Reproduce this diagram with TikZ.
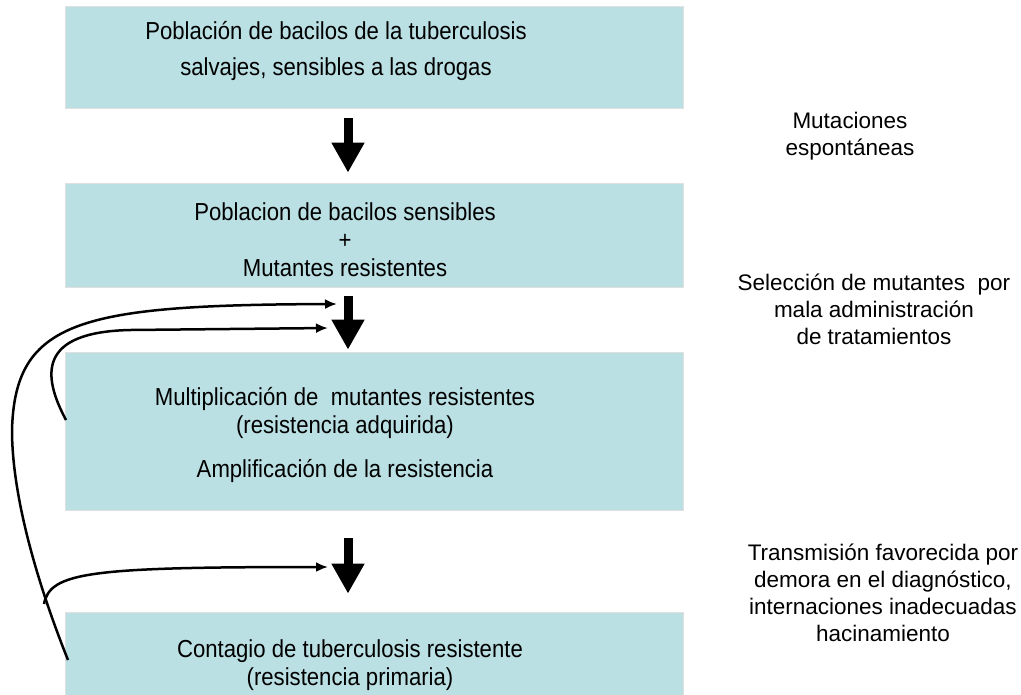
\documentclass[tikz,border=0pt]{standalone}
\usepackage{fontspec}
\setmainfont{Liberation Sans}
\newfontfamily\boxfont{Liberation Sans}[FakeStretch=0.9]
\usetikzlibrary{arrows.meta}

\definecolor{boxfill}{RGB}{186,224,228}

\tikzset{
  box/.style={rectangle, draw=black!12, fill=boxfill, minimum width=12.36cm},
  txt/.style={align=center, inner sep=0pt, font=\boxfont\fontsize{14}{16}\selectfont},
  note/.style={align=center, inner sep=0pt, font=\fontsize{12.8}{15.3}\selectfont},
  bigarrow/.style={line width=0.18cm, -{Triangle[width=0.62cm, length=0.6cm]}},
  thinarrow/.style={line width=0.05cm, -{Latex[length=0.24cm, width=0.2cm]}}
}

\begin{document}
\begin{tikzpicture}[x=0.02cm, y=-0.02cm]

\useasboundingbox (0,0) rectangle (1021,694);

\node[box, minimum height=2.04cm] (b1) at (374, 57) {};
\node[box, minimum height=2.08cm] (b2) at (374, 235) {};
\node[box, minimum height=3.16cm] (b3) at (374, 431) {};
\node[box, minimum height=1.76cm] (b4) at (374, 656) {};

\node[txt] (t1) at (336, 51) {Población de bacilos de la tuberculosis\\[5pt] salvajes, sensibles a las drogas};
\node[txt] (t2) at (345, 240) {Poblacion de bacilos sensibles\\ +\\ Mutantes resistentes};
\node[txt] (t3) at (345, 435) {Multiplicación de\ \ mutantes resistentes\\ (resistencia adquirida)\\[9pt] Amplificación de la resistencia};
\node[txt] (t4) at (350, 665) {Contagio de tuberculosis resistente\\ (resistencia primaria)};

\node[note] (m1) at (850, 136) {Mutaciones\\ espontáneas};
\node[note] (m2) at (874, 309) {Selección de mutantes\ \ por\\ mala administración\\ de tratamientos};
\node[note] (m3) at (883, 593) {Transmisión favorecida por\\ demora en el diagnóstico,\\ internaciones inadecuadas\\ hacinamiento};

\draw[bigarrow, shorten <=0.2cm, shorten >=0.2cm] ([xshift=-0.52cm]b1.south) -- ([xshift=-0.52cm]b2.north);
\draw[bigarrow, shorten <=0.18cm, shorten >=0.04cm] ([xshift=-0.52cm]b2.south) -- ([xshift=-0.52cm]b3.north);
\draw[bigarrow, shorten <=0.56cm, shorten >=0.36cm] ([xshift=-0.52cm]b3.south) -- ([xshift=-0.52cm]b4.north);

% feedback curves
\coordinate (o0) at (68, 660);
\coordinate (o1) at (12, 430);
\coordinate (fork) at (44, 604);
\coordinate (i0) at (66, 420);
\coordinate (i1) at (130, 330);
\coordinate (e1) at (337, 304);
\coordinate (e2) at (328, 328);
\coordinate (e3) at (328, 567);

\draw[thinarrow] (o0) .. controls (40, 590) and (12, 500) .. (o1)
  .. controls (15, 320) and (80, 305) .. (e1);
\draw[thinarrow] (i0) .. controls (42, 375) and (38, 332) .. (i1) -- (e2);
\draw[thinarrow] (fork) .. controls (50, 572) and (90, 567) .. (e3);

\end{tikzpicture}
\end{document}
